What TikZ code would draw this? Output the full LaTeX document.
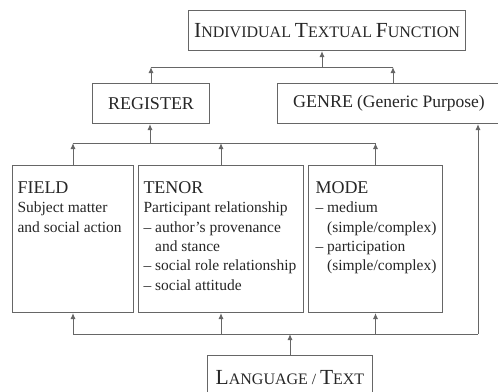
\documentclass[tikz,border=0pt]{standalone}
\usepackage{fontspec}
\setmainfont{Liberation Serif}
\usetikzlibrary{arrows.meta}

\newcommand{\smcap}[2]{{\fontsize{21.5}{20}\selectfont #1}{\fontsize{16}{20}\selectfont #2}}
\newcommand{\hd}[1]{{\fontsize{18}{19.3}\selectfont #1}}

\begin{document}
\begin{tikzpicture}[x=1pt,y=-1pt]
				\tikzstyle{box}=[rectangle,draw=black!60,line width=1pt,inner sep=0pt,text=black!85,font=\fontsize{15.5}{19.3}\selectfont]
				\tikzstyle{panel}=[box,anchor=north west,inner sep=5pt,align=left]
				\tikzstyle{link}=[draw=black!60,line width=1pt,>={Latex[length=6pt,width=5pt]}]
				\useasboundingbox (0,0) rectangle (498,391);
				\node[box,anchor=north west,minimum width=277,minimum height=40] (itf) at (188,10) {\smcap{I}{NDIVIDUAL} \smcap{T}{EXTUAL} \smcap{F}{UNCTION}};
				\node[box,anchor=north west,minimum width=117,minimum height=40] (register) at (92,83) {\hd{REGISTER}};
				\node[box,anchor=north west,minimum width=223,minimum height=40] (genre) at (277,83) {\hd{GENRE} {\fontsize{17.5}{20}\selectfont (Generic Purpose)}};
				\node[panel] (field) at (12,165) {\parbox[t][137pt][t]{111pt}{\begin{tabular}[t]{@{}l@{}}
					\rule{0pt}{23pt}\hd{FIELD}\\Subject matter\\and social action
				\end{tabular}}};
				\node[panel] (tenor) at (138,165) {\parbox[t][137pt][t]{155pt}{\begin{tabular}[t]{@{}l@{}}
					\rule{0pt}{23pt}\hd{TENOR}\\Participant relationship\\– author's provenance\\\phantom{– }and stance\\– social role relationship\\– social attitude
				\end{tabular}}};
				\node[panel,inner xsep=7pt] (mode) at (308,165) {\parbox[t][137pt][t]{120pt}{\begin{tabular}[t]{@{}l@{}}
					\rule{0pt}{23pt}\hd{MODE}\\– medium\\\phantom{– }(simple/complex)\\– participation\\\phantom{– }(simple/complex)
				\end{tabular}}};
				\node[box,anchor=north west,minimum width=165,minimum height=44] (language) at (207,355) {\smcap{L}{ANGUAGE} / \smcap{T}{EXT}};
				\coordinate (jtop) at (322,67);
				\coordinate (jmid) at (150,143);
				\coordinate (jbot) at (285,334);
				\coordinate (jgen) at (478,334);
				\coordinate (gtop) at ([xshift=4pt]genre.north);
				\draw[link] (register.north |- jtop) -- (gtop |- jtop);
				\draw[link,->] (register.north) -- (register.north |- jtop);
				\draw[link,->] (gtop) -- (gtop |- jtop);
				\draw[link,->] (jtop) -- (jtop |- itf.south);
				\draw[link] (field.north |- jmid) -- (mode.north |- jmid);
				\draw[link,->] (field.north) -- (field.north |- jmid);
				\draw[link,->] (tenor.north) -- (tenor.north |- jmid);
				\draw[link,->] (mode.north) -- (mode.north |- jmid);
				\draw[link,->] (jmid) -- (jmid |- register.south);
				\draw[link] (field.south |- jbot) -- (jgen);
				\draw[link,->] (jgen) -- (jgen |- genre.south);
				\draw[link,->] (field.south |- jbot) -- (field.south);
				\draw[link,->] (tenor.south |- jbot) -- (tenor.south);
				\draw[link,->] (mode.south |- jbot) -- (mode.south);
				\draw[link,->] (language.north) -- (language.north |- jbot);
\end{tikzpicture}
\end{document}
